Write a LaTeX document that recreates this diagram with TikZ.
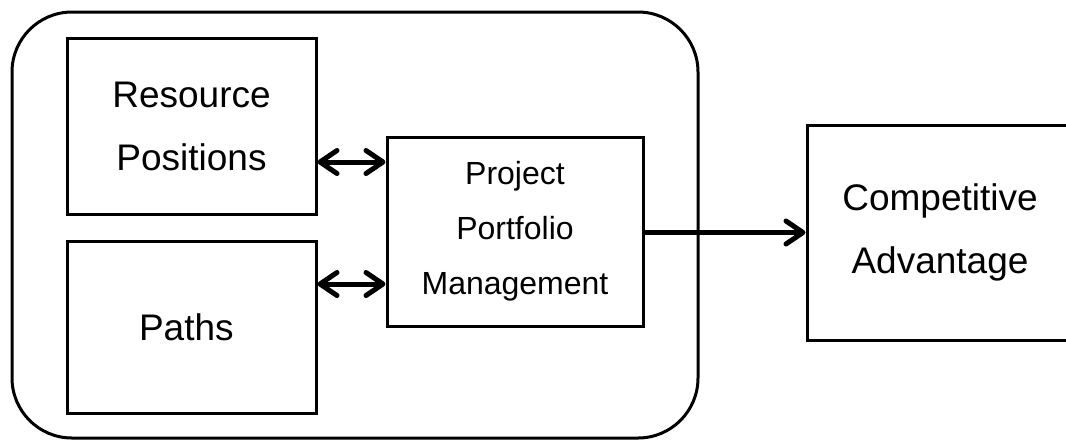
\documentclass[tikz,border=0pt]{standalone}
\usepackage{fontspec}
\setmainfont{Liberation Sans}
\usetikzlibrary{arrows.meta,positioning}

\tikzset{
  blk/.style={draw,line width=1.5pt,inner sep=0pt,align=center},
  bigtxt/.style={font=\fontsize{18.5}{31.5}\selectfont},
  smalltxt/.style={font=\fontsize{16}{27.5}\selectfont},
  barb/.tip={Straight Barb[length=8.5pt,width=11.5pt,round]},
  link/.style={line width=2.5pt,barb-barb},
  flow/.style={line width=2.5pt,-barb}
}

\begin{document}
\begin{tikzpicture}[x=0.5pt,y=-0.5pt]
    \useasboundingbox (0,0) rectangle (1066,441);
    % the firm
    \draw [line width=1.5pt,rounded corners=30pt] (12,12) rectangle (698,438);
    \node [blk,bigtxt,minimum width=124.5pt,minimum height=88pt] (res) at (191.5,126) {
      Resource\\Positions
    };
    \node [blk,bigtxt,minimum width=124.5pt,minimum height=86pt,below=12pt of res] (paths) {
      Paths
    };
    \node [blk,smalltxt,minimum width=128pt,minimum height=94.5pt] (ppm) at (515,231.5) {
      Project\\Portfolio\\Management
    };
    % outcome, running off the page
    \node [blk,bigtxt,minimum width=133pt,minimum height=107.5pt] (adv) at (940,232.5) {
      Competitive\\Advantage
    };

    \draw [link] (res.east |- 0,162) -- (ppm.west |- 0,162);
    \draw [link] (paths.east |- 0,284) -- (ppm.west |- 0,284);
    \draw [flow] (ppm.east |- adv.west) -- (adv.west);
  \end{tikzpicture}
\end{document}
